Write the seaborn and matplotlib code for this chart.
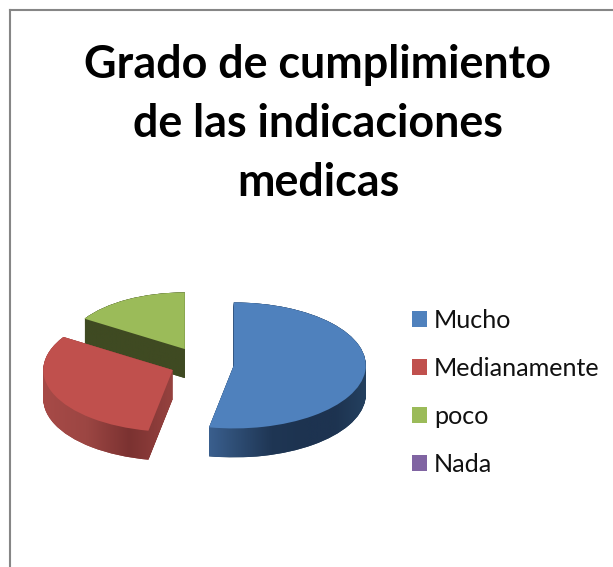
import numpy as np
import matplotlib
matplotlib.use("Agg")
import matplotlib.pyplot as plt
from matplotlib.path import Path
from matplotlib.colors import LinearSegmentedColormap
import seaborn as sns

title = "Grado de cumplimiento\nde las indicaciones\nmedicas"
categories = ["Mucho", "Medianamente", "poco", "Nada"]
values = [53, 31, 16, 0]

colors = ["#4f81bd", "#c0504d", "#9bbb59", "#8064a2"]
rim_stops = {
    0: ["#3a5f8e", "#2c4a70", "#1f3654", "#1d3350", "#1d3350", "#24405f"],
    1: ["#a74a47", "#9c4643", "#7b3231", "#96423f"],
    2: ["#3f4a22", "#3f4a22"],
}
stack_order = {2: 1, 1: 4, 0: 7}   # back to front

sns.set_theme(style="white")
plt.rcParams["font.family"] = ["Lato", "DejaVu Sans"]
palette = sns.color_palette(colors)

W, H = 613, 567
fig = plt.figure(figsize=(W / 100, H / 100), dpi=100)
L, T = 10, 10
ax = fig.add_axes([L / W, 0, (W - L) / W, (H - T) / H])

RX, RY, DEPTH = 132.0, 63.0, 29.0
CX, CY = 202.0, 364.0
EXPLODE = [0.242, 0.242, 0.27, 0.242]
RADII = [1.0, 0.98, 0.90, 1.0]
LAYERS = 29


def draw_pie(offset):
    wedges, _ = ax.pie(values, colors=palette, explode=EXPLODE, startangle=90,
                       counterclock=False, radius=1.0, center=(0, offset),
                       wedgeprops=dict(linewidth=0))
    for w, r in zip(wedges, RADII):
        w.set_radius(r)
    return wedges


rim_paths = {0: [], 1: [], 2: []}
for off in np.linspace(DEPTH / RY, 0.0, LAYERS):
    wedges = draw_pie(-off)
    for i, w in enumerate(wedges):
        if i in rim_paths:
            w.set_facecolor(rim_stops[i][-1])
            w.set_zorder(stack_order[i])
            rim_paths[i].append(w.get_path())

top = draw_pie(0)
for i, w in enumerate(top):
    if i in stack_order:
        w.set_zorder(stack_order[i] + 2)

for i, paths in rim_paths.items():
    compound = Path.make_compound_path(*paths)
    bb = compound.get_extents()
    cmap = LinearSegmentedColormap.from_list(f"rim{i}", rim_stops[i])
    img = ax.imshow(np.linspace(0, 1, 256)[None, :], cmap=cmap, aspect="auto",
                    extent=[bb.x0, bb.x1, bb.y0, bb.y1], origin="lower",
                    zorder=stack_order[i] + 1)
    img.set_clip_path(compound, ax.transData)

ax.set_aspect("auto")
ax.set_xlim((L - CX) / RX, (W - CX) / RX)
ax.set_ylim((CY - H) / RY, (CY - T) / RY)
ax.set_xticks([])
ax.set_yticks([])
ax.set_frame_on(True)
ax.patch.set_visible(False)
for side in ("right", "bottom"):
    ax.spines[side].set_visible(False)
for side in ("top", "left"):
    ax.spines[side].set_visible(True)
    ax.spines[side].set_color("#868686")
    ax.spines[side].set_linewidth(1.5)

fig.text(318 / W, 1 - 124 / H, title, ha="center", va="center", fontsize=32.3,
         fontweight="bold", color="black", linespacing=1.5)

leg = fig.legend(top, categories, loc="upper left",
                 bbox_to_anchor=(402 / W, 1 - 298.5 / H), frameon=False, fontsize=18.1,
                 handlelength=0.6, handleheight=0.6, handletextpad=0.28,
                 labelspacing=1.0, labelcolor="#111111", borderpad=0.4, borderaxespad=0)

fig.savefig("out.png", dpi=100)
